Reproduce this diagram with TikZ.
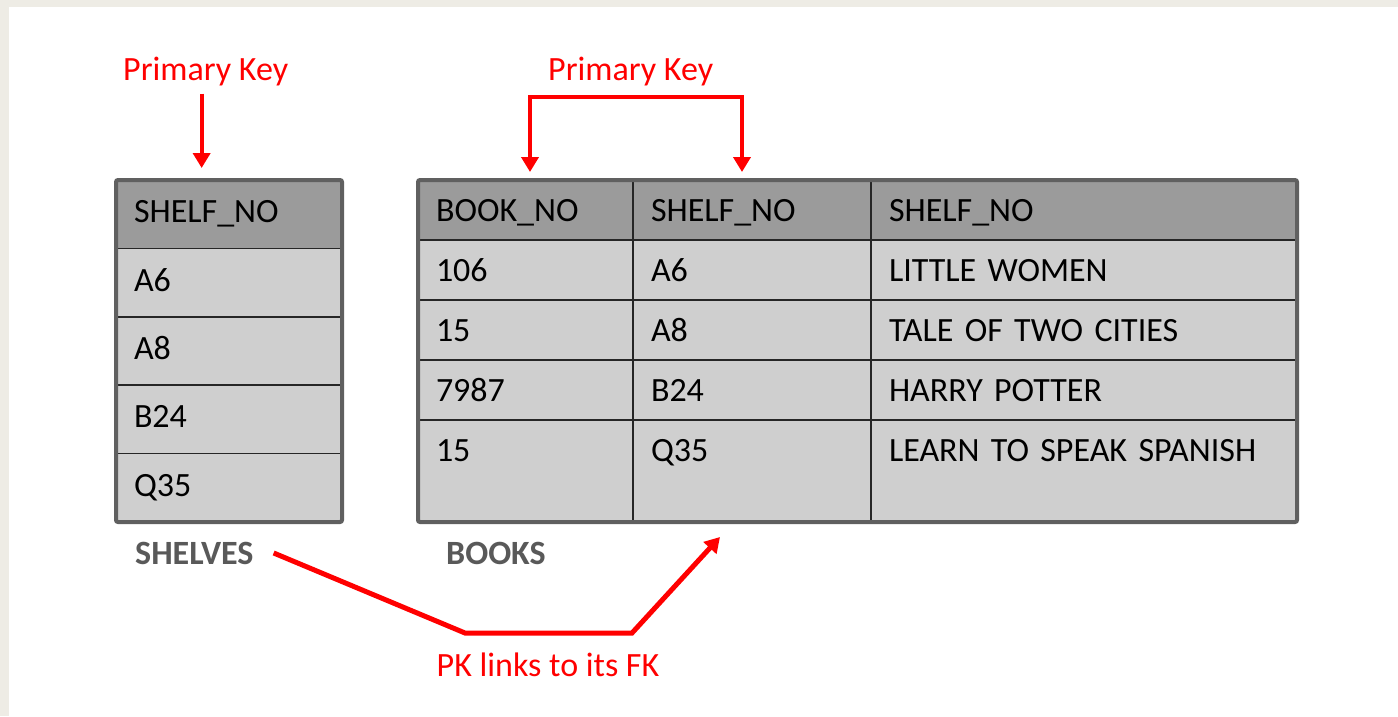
\documentclass[tikz,border=0pt]{standalone}
\usepackage{fontspec}
\setmainfont{Carlito}
\usepackage{tikz}
\usetikzlibrary{positioning}
\usetikzlibrary{arrows.meta}

\definecolor{pkred}{HTML}{FF0000}
\definecolor{hdgray}{HTML}{9B9B9B}
\definecolor{rowgray}{HTML}{CFCFCF}
\definecolor{framegray}{HTML}{606060}
\definecolor{lblgray}{HTML}{595959}
\definecolor{pagebeige}{HTML}{EEECE5}

\tikzset{
    cell/.style={draw=black!85, line width=1.5pt, anchor=north west, inner xsep=18pt,
        inner ysep=0pt, outer sep=0pt, text height=22pt, text depth=0pt, align=left},
    hdr/.style={fill=hdgray},
    row/.style={fill=rowgray},
    lcol/.style={text width=190pt, minimum height=68.4pt, text depth=5pt},
    bcola/.style={text width=179pt},
    bcolb/.style={text width=202pt},
    bcolc/.style={text width=390pt},
    frame/.style={draw=framegray, line width=4pt, rounded corners=2pt},
    pktext/.style={text=pkred, inner sep=0pt},
    tbltext/.style={text=lblgray, font=\fontsize{34}{40}\selectfont\bfseries, inner sep=0pt},
    pkarrow/.style={draw=pkred, line width=4pt, -{Triangle[length=15pt,width=17pt]}},
    pkboth/.style={draw=pkred, line width=4pt, {Triangle[length=15pt,width=17pt]}-{Triangle[length=15pt,width=17pt]}},
}

\begin{document}
\begin{tikzpicture}[x=1pt, y=-1pt, every node/.style={font=\fontsize{34}{40}\selectfont}]
    % page
    \fill[pagebeige] (0,0) rectangle (1398,716);
    \fill[white] (9,7) rectangle (1398,716);

    % SHELVES table
    \node[cell,lcol,hdr] (s0) at (116,180) {SHELF\_NO};
    \node[cell,lcol,row,below=0pt of s0] (s1) {A6};
    \node[cell,lcol,row,below=0pt of s1] (s2) {A8};
    \node[cell,lcol,row,below=0pt of s2] (s3) {B24};
    \node[cell,lcol,row,below=0pt of s3] (s4) {Q35};
    \draw[frame] (s0.north west) rectangle (s4.south east);

    % BOOKS table
    \node[cell,bcola,hdr,minimum height=60pt] (b00) at (418,180) {BOOK\_NO};
    \node[cell,bcolb,hdr,minimum height=60pt,right=0pt of b00] (b01) {SHELF\_NO};
    \node[cell,bcolc,hdr,minimum height=60pt,right=0pt of b01] (b02) {SHELF\_NO};
    \node[cell,bcola,row,minimum height=60pt,below=0pt of b00] (b10) {106};
    \node[cell,bcolb,row,minimum height=60pt,right=0pt of b10] (b11) {A6};
    \node[cell,bcolc,row,minimum height=60pt,right=0pt of b11] (b12) {LITTLE WOMEN};
    \node[cell,bcola,row,minimum height=60pt,below=0pt of b10] (b20) {15};
    \node[cell,bcolb,row,minimum height=60pt,right=0pt of b20] (b21) {A8};
    \node[cell,bcolc,row,minimum height=60pt,right=0pt of b21] (b22) {TALE OF TWO CITIES};
    \node[cell,bcola,row,minimum height=60pt,below=0pt of b20] (b30) {7987};
    \node[cell,bcolb,row,minimum height=60pt,right=0pt of b30] (b31) {B24};
    \node[cell,bcolc,row,minimum height=60pt,right=0pt of b31] (b32) {HARRY POTTER};
    \node[cell,bcola,row,minimum height=102pt,text depth=42pt,below=0pt of b30] (b40) {15};
    \node[cell,bcolb,row,minimum height=102pt,text depth=42pt,right=0pt of b40] (b41) {Q35};
    \node[cell,bcolc,row,minimum height=102pt,text depth=42pt,right=0pt of b41] (b42) {LEARN TO SPEAK SPANISH};
    \draw[frame] (b00.north west) rectangle (b42.south east);

    % table names
    \node[tbltext,anchor=base west] (shelves) at (135,564) {SHELVES};
    \node[tbltext,anchor=base west] (books) at (446,564) {BOOKS};

    % primary keys
    \node[pktext,anchor=base west] (pk1) at (123,80) {Primary Key};
    \node[pktext,anchor=base west] (pk2) at (548,80) {Primary Key};
    \draw[pkarrow,shorten <=8pt,shorten >=12pt] ([xshift=-4pt]pk1.south) -- ([xshift=-4pt]pk1.south |- s0.north);
    \coordinate (pkl) at (530,97);
    \coordinate (pkr) at (742,97);
    \draw[pkboth,shorten <=8pt,shorten >=8pt] (pkl |- b00.north) -- (pkl) -- (pkr) -- (pkr |- b01.north);

    % link
    \node[pktext,anchor=base] (link) at (548,676) {PK links to its FK};
    \coordinate (fkb1) at (465,633);
    \coordinate (fkb2) at (632,633);
    \coordinate (fktip) at (720,537);
    \draw[pkarrow,line width=5pt] ([xshift=20pt]shelves.east) -- (fkb1) -- (fkb2) -- (fktip);
\end{tikzpicture}
\end{document}
